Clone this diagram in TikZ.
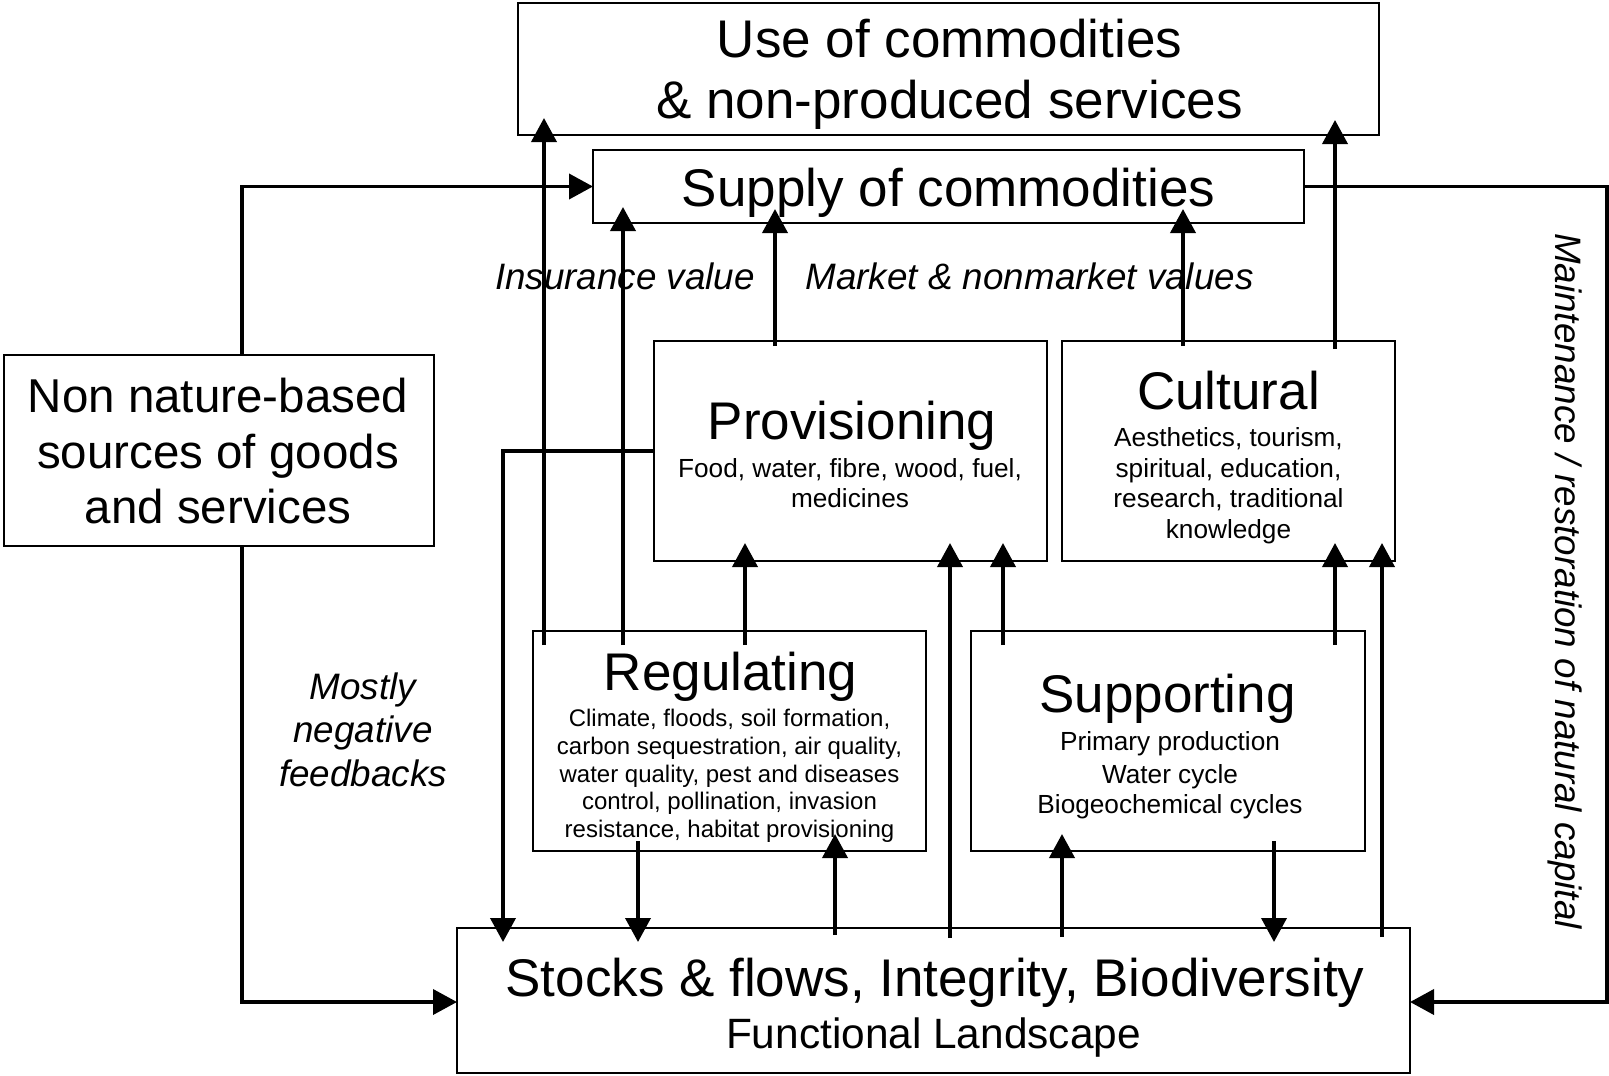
\documentclass[tikz,border=0pt]{standalone}
\usepackage{fontspec}
\setmainfont{Liberation Sans}
\usetikzlibrary{arrows.meta,calc}
\tikzset{
  box/.style={draw, line width=2pt, inner sep=0pt, outer sep=0pt},
  conn/.style={line width=3.8pt},
  arr/.style={conn, -{Triangle[length=24pt,width=25pt]}},
  ttl/.style={anchor=base, inner sep=0pt, font=\fontsize{53}{60}\selectfont},
  nonf/.style={anchor=base, inner sep=0pt, font=\fontsize{47.5}{56}\selectfont},
  flf/.style={anchor=base, inner sep=0pt, font=\fontsize{42.4}{50}\selectfont},
  subf/.style={anchor=base, inner sep=0pt, font=\fontsize{26.2}{30}\selectfont},
  rsubf/.style={anchor=base, inner sep=0pt, font=\fontsize{24}{28}\selectfont},
  lbl/.style={anchor=base, inner sep=0pt, font=\itshape\fontsize{36.8}{44}\selectfont},
}
\begin{document}
\begin{tikzpicture}[x=1pt,y=-1pt]
\useasboundingbox (0,0) rectangle (1609,1076);
% boxes
\node[box, minimum width=861pt, minimum height=132pt] (use) at (948.5,69) {};
\node[box, minimum width=711pt, minimum height=73pt] (sup) at (948.5,186.5) {};
\node[box, minimum width=430pt, minimum height=191pt] (non) at (219,450.5) {};
\node[box, minimum width=393pt, minimum height=220pt] (prov) at (850.5,451) {};
\node[box, minimum width=333pt, minimum height=220pt] (cult) at (1228.5,451) {};
\node[box, minimum width=393pt, minimum height=220pt] (reg) at (729.5,741) {};
\node[box, minimum width=394pt, minimum height=220pt] (supp) at (1168,741) {};
\node[box, minimum width=953pt, minimum height=145pt] (stock) at (933.5,1000.5) {};
% texts
\node[ttl] (useA) at (949.5,57) {Use of commodities};
\node[ttl] (useB) at (949.5,118) {\& non-produced services};
\node[ttl] (supT) at (948.5,206) {Supply of commodities};
\node[nonf] (nonA) at (218,412.5) {Non nature-based};
\node[nonf] (nonB) at (218,468) {sources of goods};
\node[nonf] (nonC) at (218,523) {and services};
\node[ttl] (provT) at (852,439) {Provisioning};
\node[subf] (provA) at (850,477) {Food, water, fibre, wood, fuel,};
\node[subf] (provB) at (850,507) {medicines};
\node[ttl] (cultT) at (1228.5,409) {Cultural};
\node[subf] (cultA) at (1228.5,446.5) {Aesthetics, tourism,};
\node[subf] (cultB) at (1228.5,477) {spiritual, education,};
\node[subf] (cultC) at (1228.5,507) {research, traditional};
\node[subf] (cultD) at (1228.5,538) {knowledge};
\node[ttl] (regT) at (730.5,690) {Regulating};
\node[rsubf] (regA) at (729.5,726) {Climate, floods, soil formation,};
\node[rsubf] (regB) at (729.5,754) {carbon sequestration, air quality,};
\node[rsubf] (regC) at (729.5,782) {water quality, pest and diseases};
\node[rsubf] (regD) at (729.5,809) {control, pollination, invasion};
\node[rsubf] (regE) at (729.5,837) {resistance, habitat provisioning};
\node[ttl] (suppT) at (1167.5,712.6) {Supporting};
\node[subf] (suppA) at (1170,750) {Primary production};
\node[subf] (suppB) at (1170,783) {Water cycle};
\node[subf] (suppC) at (1170,813.5) {Biogeochemical cycles};
\node[ttl] (stockT) at (935,996) {Stocks \& flows, Integrity, Biodiversity};
\node[flf] (stockB) at (933.5,1048) {Functional Landscape};
\node[lbl] (ins) at (625,289) {Insurance value};
\node[lbl] (mkt) at (1029.5,289) {Market \& nonmarket values};
\node[lbl] (mostA) at (363,699) {Mostly};
\node[lbl] (mostB) at (363,742) {negative};
\node[lbl] (mostC) at (363,786) {feedbacks};
\node[lbl, rotate=-90] (maint) at (1555.5,581) {Maintenance / restoration of natural capital};
% vertical arrows
\draw[arr] ($(reg.north west)+(11,14)$) -- ($(reg.north west |- use.south)+(11,-17)$);
\draw[arr] ($(reg.north west)+(90,14)$) -- ($(reg.north west |- sup.south)+(90,-16)$);
\draw[arr] ($(prov.north west)+(121,5)$) -- ($(prov.north west |- sup.south)+(121,-14)$);
\draw[arr] ($(cult.north west)+(121,5)$) -- ($(cult.north west |- sup.south)+(121,-14)$);
\draw[arr] ($(cult.north west)+(273,8)$) -- ($(cult.north west |- use.south)+(273,-15)$);
\draw[arr] ($(reg.north west)+(212,14)$) -- ($(reg.north west |- prov.south)+(212,-18)$);
\draw[arr] ($(stock.north west)+(493,10)$) -- ($(stock.north west |- prov.south)+(493,-18)$);
\draw[arr] ($(supp.north west)+(32,14)$) -- ($(supp.north west |- prov.south)+(32,-18)$);
\draw[arr] ($(supp.north west)+(364,14)$) -- ($(supp.north west |- cult.south)+(364,-18)$);
\draw[arr] ($(stock.north west)+(925,9)$) -- ($(stock.north west |- cult.south)+(925,-18)$);
\draw[arr] ($(stock.north west)+(378,7)$) -- ($(stock.north west |- reg.south)+(378,-17)$);
\draw[arr] ($(stock.north west)+(605,9)$) -- ($(stock.north west |- supp.south)+(605,-17)$);
\draw[arr] ($(reg.south west)+(105,-10)$) -- ($(reg.south west |- stock.north)+(105,14)$);
\draw[arr] ($(supp.south west)+(303,-10)$) -- ($(supp.south west |- stock.north)+(303,14)$);
% elbow connectors
\draw[arr] (prov.west) -| ($(stock.north west)+(46,14)$);
\draw[arr] ($(non.north)+(23,0)$) |- (sup.west);
\draw[arr] ($(non.south)+(23,0)$) |- ($(stock.west)+(0,1.5)$);
\draw[arr] (sup.east) -| ($(stock.east)+(197,1.5)$) -- ($(stock.east)+(0,1.5)$);
\end{tikzpicture}
\end{document}
